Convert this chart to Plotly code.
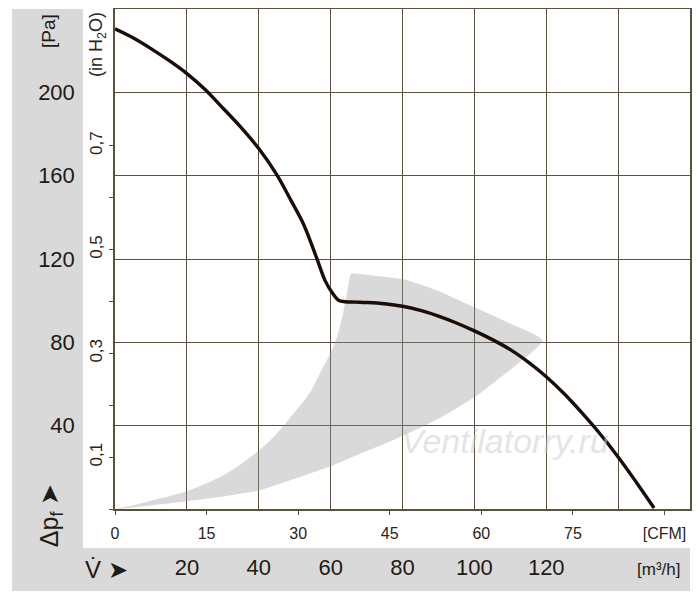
import plotly.graph_objects as go

# Fan characteristic curve (flow in m3/h, static pressure in Pa)
flow_m3h = [0, 5, 10, 15, 20, 25, 30, 35, 40, 45, 49, 52.5, 56, 58.5, 60.4, 62.2, 64, 67, 70,
            75, 80, 85, 90, 95, 100, 105, 110, 115, 120, 125, 130, 135, 140, 145, 150]
pressure_pa = [230.5, 226.2, 221, 215.3, 209, 201.5, 192.5, 183.3, 173, 160.5, 148, 136.6, 121,
               109.5, 103.9, 100.2, 99.5, 99.3, 99.1, 98.5, 97.3, 95.3, 92.6, 89.3, 85.5, 81.3,
               76.5, 70.5, 63.5, 55.3, 46, 36, 25, 13, 0.5]

# Recommended operating range (grey area), outline traced around
range_flow = [0, 5, 10, 15, 20, 25, 30, 35, 40, 43.5, 46.9, 50.5, 54.3, 57.6, 59.9, 61.3, 62.5,
              63.6, 64.6, 65.5, 66,
              72, 80.2, 90, 100.2, 110, 118.9,
              112, 106, 100, 91.5, 80.2, 69.2, 60, 50, 40, 30, 20, 10, 0]
range_pressure = [0, 1.8, 4, 6.1, 8.5, 12, 16, 21.5, 28, 33.5, 40, 47.5, 56, 67, 74.5, 80, 87,
                  95, 104, 112.5, 113,
                  112, 110.3, 104.7, 96.7, 89, 81,
                  69.6, 61.5, 53.6, 44.8, 35.2, 27.2, 20.5, 14.5, 8.9, 6.0, 3.7, 1.7, 0]

# Axis ticks
m3h_ticks = [0, 20, 40, 60, 80, 100, 120, 140]
m3h_labels = ["", "20", "40", "60", "80", "100", "120", ""]
cfm_ticks = [0, 15, 30, 45, 60, 75, 90]
cfm_labels = ["0", "15", "30", "45", "60", "75", "[CFM]"]
pa_ticks = [40, 80, 120, 160, 200]
pa_labels = ["40", "80", "120", "160", "200"]
inh2o_ticks = [0, 0.1, 0.2, 0.3, 0.4, 0.5, 0.6, 0.7]
inh2o_labels = ["", "0,1", "", "0,3", "", "0,5", "", "0,7"]

M3H_PER_CFM = 1.699
PA_PER_INH2O = 249.089
X_MAX = 160
Y_MAX = 240

GRID = "#5a5040"
TXT = "#1e1a16"
BAND = "#d9d9d9"
FONT = "Liberation Sans, Arial, sans-serif"

fig = go.Figure()

fig.add_trace(go.Scatter(
    x=range_flow, y=range_pressure, mode="lines", fill="toself",
    fillcolor="rgba(146,146,146,0.35)", line=dict(width=0, shape="spline", smoothing=0.6),
    hoverinfo="skip", showlegend=False))

fig.add_trace(go.Scatter(
    x=flow_m3h, y=pressure_pa, mode="lines",
    line=dict(color="#1a0c06", width=3.4, shape="spline", smoothing=1.0),
    showlegend=False))

# same curve expressed in CFM / inH2O so that the secondary axes are drawn
fig.add_trace(go.Scatter(
    x=[q / M3H_PER_CFM for q in flow_m3h], y=[p / PA_PER_INH2O for p in pressure_pa],
    xaxis="x2", yaxis="y2", mode="none", hoverinfo="skip", showlegend=False))


def note(text, x, y, size, angle=0, color=TXT):
    return dict(text=text, xref="paper", yref="paper", x=x, y=y, textangle=angle,
                xanchor="center", yanchor="middle", showarrow=False,
                font=dict(size=size, color=color))


fig.update_layout(
    width=692, height=592,
    margin=dict(l=107, r=10, t=1, b=91),
    paper_bgcolor="white", plot_bgcolor="white",
    font=dict(family=FONT, color=TXT),
    xaxis=dict(range=[0, X_MAX], tickvals=m3h_ticks, ticktext=m3h_labels, automargin=False,
               showgrid=True, gridcolor=GRID, gridwidth=1.2, zeroline=False,
               ticks="", ticklabelstandoff=38, tickfont=dict(size=22, color=TXT),
               showline=True, linecolor=GRID, linewidth=1.5, mirror=True),
    xaxis2=dict(range=[0, X_MAX / M3H_PER_CFM], tickvals=cfm_ticks, ticktext=cfm_labels,
                overlaying="x", side="bottom", anchor="y", automargin=False,
                showgrid=False, zeroline=False, showline=False,
                ticks="outside", ticklen=5, tickwidth=1.2, tickcolor=GRID,
                ticklabelstandoff=5, tickfont=dict(size=16, color="#2a2520")),
    yaxis=dict(range=[0, Y_MAX], tickvals=pa_ticks, ticktext=pa_labels, automargin=False,
               showgrid=True, gridcolor=GRID, gridwidth=1.2, zeroline=False,
               ticks="", ticklabelstandoff=34, tickfont=dict(size=22, color=TXT),
               showline=True, linecolor=GRID, linewidth=1.5, mirror=True),
    yaxis2=dict(range=[0, Y_MAX / PA_PER_INH2O], tickvals=inh2o_ticks, ticktext=inh2o_labels,
                overlaying="y", side="left", anchor="x", automargin=False,
                showgrid=False, zeroline=False, showline=False,
                ticks="outside", ticklen=5, tickwidth=1.2, tickcolor=GRID,
                tickangle=-90, ticklabelstandoff=0, tickfont=dict(size=17, color="#2a2520")),
    shapes=[
        dict(type="rect", xref="paper", yref="paper", x0=-0.179, x1=-0.0557, y0=-0.164, y1=1.0,
             fillcolor=BAND, line=dict(width=0), layer="below"),
        dict(type="rect", xref="paper", yref="paper", x0=-0.179, x1=1.0, y0=-0.164, y1=-0.078,
             fillcolor=BAND, line=dict(width=0), layer="below"),
    ],
    annotations=[
        note("[Pa]", -0.1165, 0.956, 19, -90),
        note("(in H<sub>2</sub>O)", -0.0296, 0.93, 18, -90, "#2a2520"),
        note("Δp<sub>f</sub> ➤", -0.111, -0.014, 25, -90),
        note("V̇ ➤", -0.014, -0.12, 24),
        note("[m³/h]", 0.946, -0.12, 17),
        note("<i>Ventilatorry.ru</i>", 0.678, 0.136, 34, 0, "rgba(205,205,205,0.55)"),
    ],
)

fig.write_html("out.html")
